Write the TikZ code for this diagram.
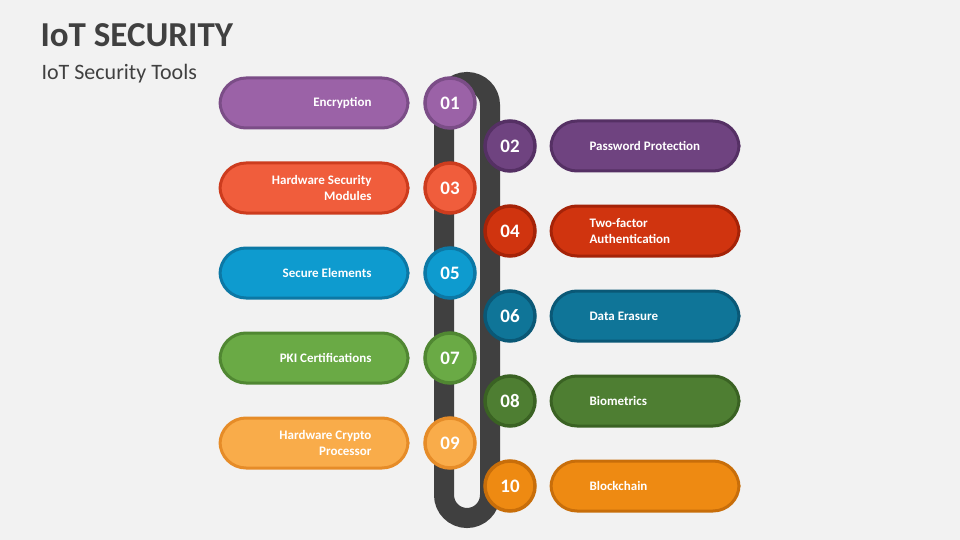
\documentclass[tikz,border=0pt]{standalone}
\usepackage{fontspec}
\setmainfont{Carlito}
\begin{document}
\begin{tikzpicture}[x=1pt,y=-1pt,
  pill/.style={rounded corners=26pt,line width=3pt,minimum width=188pt,minimum height=50pt,inner sep=0pt},
  num/.style={circle,line width=3.5pt,minimum size=50pt,inner sep=0pt,text=white,font=\fontsize{19}{19}\selectfont\bfseries},
  lbl/.style={text=white,font=\fontsize{13}{15.5}\selectfont\bfseries}]
\fill[fill={rgb,255:red,242;green,242;blue,242}] (0,0) rectangle (960,540);
\useasboundingbox (0,0) rectangle (960,540);
\node[anchor=west,font=\fontsize{35}{35}\selectfont\bfseries,text={rgb,255:red,64;green,64;blue,64}] (t) at (37,35) {IoT SECURITY};
\node[anchor=west,font=\fontsize{22}{22}\selectfont,text={rgb,255:red,64;green,64;blue,64}] (s) at (38,74) {IoT Security Tools};
\draw[line width=20pt,color={rgb,255:red,64;green,64;blue,64}] (444,105) arc[start angle=-180,end angle=0,radius=23] -- (490,495) arc[start angle=0,end angle=180,radius=23] -- cycle;
\foreach \i/\y/\side/\f/\d/\txt in {
 01/103/L/9B62A7/7B4D87/{Encryption},
 02/146/R/6F4380/553064/{Password Protection},
 03/188/L/F05D3C/CD3C1E/{Hardware Security\\Modules},
 04/231/R/D0340F/A52308/{Two-factor\\Authentication},
 05/273/L/0E9BCF/0C78A5/{Secure Elements},
 06/316/R/0F7598/0A5876/{Data Erasure},
 07/358/L/6AAA45/508732/{PKI Certifications},
 08/401/R/4E7E32/3A6223/{Biometrics},
 09/443/L/F9AC4A/E68C28/{Hardware Crypto\\Processor},
 10/486/R/EE8A12/C86E0A/{Blockchain}}{
 \definecolor{fc}{HTML}{\f}\definecolor{dc}{HTML}{\d}
 \if\side L
   \node[pill,fill=fc,draw=dc] (p\i) at (314,\y) {};
   \node[lbl,align=right,anchor=east] (l\i) at (375,\y) {\txt};
   \node[num,fill=fc,draw=dc] (n\i) at (450,\y) {\i};
 \else
   \node[pill,fill=fc,draw=dc] (p\i) at (645,\y) {};
   \node[lbl,align=left,anchor=west] (l\i) at (586,\y) {\txt};
   \node[num,fill=fc,draw=dc] (n\i) at (510,\y) {\i};
 \fi}
\end{tikzpicture}
\end{document}
